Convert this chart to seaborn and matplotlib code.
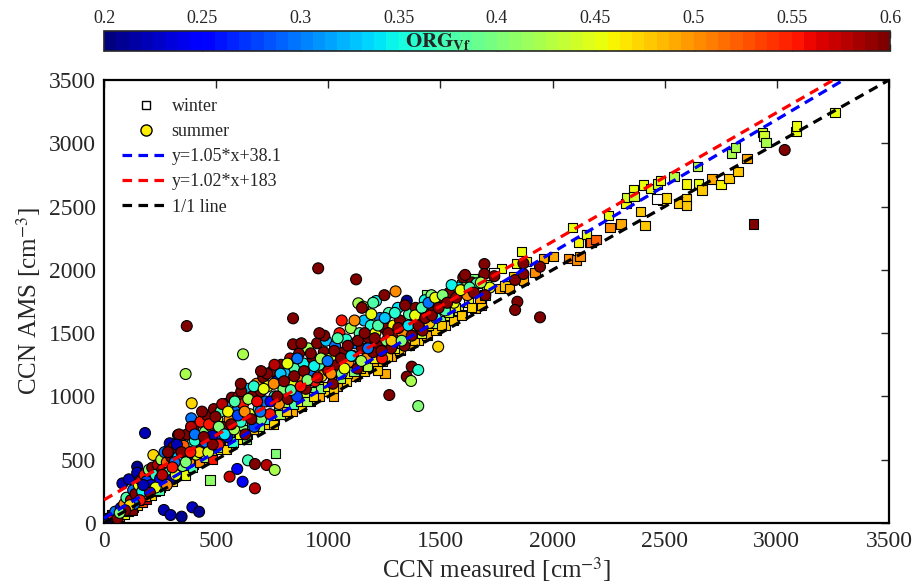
import numpy as np
import matplotlib
matplotlib.use("Agg")
import matplotlib.pyplot as plt
import seaborn as sns
from matplotlib.lines import Line2D
from matplotlib.colors import Normalize
from matplotlib.cm import ScalarMappable

# ---------------- data ----------------
summer_x = [
    10, 25, 40, 50, 60, 75, 82, 90, 100, 111,
    120, 130, 140, 148, 148, 155, 165, 170, 180, 183,
    190, 200, 210, 215, 220, 230, 240, 250, 255, 260,
    267, 270, 280, 290, 293, 297, 297, 300, 320, 330,
    346, 364, 369, 389, 391, 394, 424,
    310, 320, 330, 340, 350, 360, 370, 380, 390, 400,
    410, 416, 420, 430, 440, 450, 460, 470, 480, 490,
    500, 505, 510, 520, 530, 540, 550, 560, 560, 570,
    580, 590, 594, 600, 610, 618, 620, 620, 630, 640,
    642, 650, 660, 670, 673, 673, 680, 690, 700, 700,
    725, 761,
    710, 720, 730, 740, 750, 760, 770, 780, 790, 800,
    810, 820, 830, 840, 843, 843, 850, 860, 870, 880,
    890, 900, 910, 920, 930, 940, 950, 955, 960, 970,
    980, 990, 1000, 1010, 1020, 1030, 1040, 1050, 1060, 1070,
    1080, 1090, 1100,
    1110, 1120, 1124, 1134, 1130, 1140, 1150, 1156, 1160, 1170,
    1180, 1190, 1200, 1210, 1213, 1220, 1230, 1240, 1250, 1260,
    1270, 1272, 1280, 1290, 1300, 1310, 1320, 1330, 1340, 1350,
    1350, 1360, 1369, 1372, 1380, 1390, 1401, 1401, 1410, 1420,
    1430, 1440, 1450, 1460, 1470, 1480, 1490, 1500,
    1520, 1540, 1560, 1580, 1602, 1620, 1640, 1662, 1696, 1696,
    1720, 1833, 1843, 1833, 1870, 1870, 1944, 1944, 3035,
    315, 335, 355, 372, 388, 405, 425, 437, 452, 468,
    483, 497, 512, 527, 538, 553, 567, 583, 597, 612,
    627, 643, 657, 668, 683, 697, 712, 727, 742, 757,
    772, 787, 803, 818, 833, 848, 862, 877, 892, 907,
    922, 937, 952, 967, 982, 997, 1012, 1027, 1042, 1057,
    1072, 1087, 1102, 1117, 1132, 1147, 1162, 1177, 1192, 1207,
    1222, 1237, 1252, 1267, 1282, 1297, 1312, 1327, 1342, 1357,
    1372, 1387, 1402, 1417, 1432, 1447, 1462, 1477, 1492, 1510,
    1530, 1550, 1570, 1590, 1610, 1630, 1650, 1680, 1700, 1740,
    260, 280, 230, 205, 175, 160, 135, 115, 95, 70,
    285, 305, 325, 345, 365, 385, 405, 445, 465, 485,
    610, 700, 760, 880, 960, 1060, 1150, 1250, 1300, 1200,
]
summer_y = [
    20, 40, 55, 90, 35, 120, 313, 150, 200, 345,
    180, 260, 230, 445, 397, 300, 340, 250, 380, 711,
    330, 420, 300, 437, 537, 380, 460, 350, 500, 420,
    103, 560, 480, 400, 630, 63, 340, 520, 445, 695,
    50, 1177, 1556, 827, 946, 124, 89,
    600, 380, 520, 640, 450, 560, 700, 480, 620, 760,
    540, 669, 680, 800, 590, 720, 850, 640, 760, 900,
    700, 820, 620, 880, 760, 940, 680, 366, 820, 990,
    740, 880, 427, 1000, 800, 326, 1333, 940, 700, 1060,
    495, 860, 1000, 760, 274, 466, 1100, 900, 1040, 820,
    458, 419,
    1150, 960, 1080, 860, 1200, 1000, 1120, 940, 1250, 1060,
    1180, 980, 1300, 1100, 1617, 1412, 1220, 1000, 1340, 1150,
    1260, 1060, 1380, 1200, 1300, 1120, 1420, 2012, 1250, 1160,
    1350, 1440, 1200, 1300, 1100, 1400, 1250, 1500, 1180, 1350,
    1450, 1270, 1540,
    1320, 1420, 1925, 1736, 1220, 1500, 1380, 1709, 1600, 1300,
    1460, 1560, 1350, 1500, 1754, 1420, 1620, 1300, 1540, 1440,
    1660, 1011, 1380, 1560, 1470, 1700, 1600, 1500, 1400, 1756,
    1156, 1650, 1122, 1235, 1560, 1700, 1209, 924, 1620, 1520,
    1760, 1660, 1580, 1800, 1700, 1620, 1393, 1760,
    1680, 1820, 1740, 1860, 1941, 1800, 1900, 1894, 2046, 1967,
    1860, 1920, 1748, 1683, 2052, 1967, 2025, 1625, 2947,
    480, 700, 610, 530, 760, 650, 560, 880, 640, 780,
    690, 840, 760, 940, 700, 880, 780, 960, 850, 1040,
    880, 980, 820, 1080, 960, 880, 1060, 1180, 960, 1100,
    1000, 1180, 1120, 1260, 1050, 1160, 1300, 1080, 1200, 1130,
    1340, 1240, 1150, 1300, 1480, 1280, 1180, 1360, 1460, 1300,
    1220, 1400, 1320, 1600, 1440, 1280, 1500, 1380, 1650, 1460,
    1560, 1360, 1620, 1500, 1440, 1660, 1540, 1440, 1720, 1560,
    1480, 1640, 1560, 1700, 1620, 1740, 1640, 1780, 1700, 1800,
    1740, 1880, 1780, 1840, 1960, 1860, 1820, 1900, 1800, 1950,
    380, 300, 280, 240, 300, 180, 150, 140, 100, 80,
    560, 440, 620, 560, 480, 560, 700, 680, 560, 620,
    1100, 1200, 1250, 1420, 1500, 1600, 1700, 1800, 1830, 1740,
]
summer_org = [
    .45, .20, .55, .30, .60, .25, .22, .50, .38, .22,
    .58, .30, .60, .21, .22, .45, .60, .35, .55, .22,
    .28, .40, .24, .60, .47, .36, .58, .25, .42, .60,
    .22, .30, .52, .38, .22, .22, .22, .60, .24, .23,
    .21, .42, .60, .30, .47, .23, .21,
    .60, .45, .33, .58, .40, .26, .60, .50, .35, .60,
    .44, .60, .30, .55, .22, .40, .60, .36, .50, .60,
    .27, .45, .55, .38, .60, .32, .24, .57, .50, .60,
    .42, .30, .25, .58, .36, .25, .42, .55, .60, .33,
    .37, .45, .60, .28, .58, .60, .50, .35, .60, .40,
    .58, .42,
    .60, .30, .45, .55, .60, .36, .25, .50, .60, .40,
    .33, .60, .58, .45, .60, .60, .38, .28, .60, .50,
    .35, .60, .42, .30, .60, .55, .60, .60, .37, .47,
    .60, .33, .58, .44, .60, .30, .60, .55, .40, .60,
    .36, .50, .42,
    .60, .30, .60, .42, .60, .38, .60, .43, .33, .50,
    .60, .36, .60, .45, .35, .60, .30, .55, .60, .40,
    .37, .60, .60, .46, .60, .34, .60, .50, .60, .21,
    .60, .38, .42, .60, .45, .60, .36, .40, .30, .60,
    .35, .60, .48, .40, .60, .36, .47, .60,
    .38, .60, .45, .34, .60, .50, .60, .37, .60, .60,
    .45, .60, .60, .60, .60, .60, .60, .60, .60,
    .30, .60, .52, .24, .58, .36, .47, .60, .30, .55,
    .22, .60, .40, .58, .34, .46, .60, .38, .28, .60,
    .50, .42, .60, .36, .56, .30, .45, .60, .25, .50,
    .60, .33, .60, .45, .38, .60, .30, .55, .60, .40,
    .60, .35, .58, .42, .60, .30, .50, .60, .38, .60,
    .45, .60, .34, .50, .60, .42, .60, .30, .45, .60,
    .38, .60, .33, .60, .48, .36, .60, .40, .60, .34,
    .60, .45, .60, .38, .60, .30, .60, .45, .60, .40,
    .60, .35, .60, .45, .60, .38, .60, .42, .60, .60,
    .58, .50, .45, .60, .22, .55, .30, .47, .60, .40,
    .60, .55, .22, .60, .40, .55, .30, .60, .44, .60,
    .60, .60, .58, .60, .60, .55, .60, .60, .50, .38,
]

winter_x = [
    10, 20, 30, 40, 50, 60, 70, 80, 90, 100,
    110, 120, 130, 140, 150, 160, 170, 180, 190, 200,
    210, 220, 230, 240, 250, 260, 270, 280, 290, 300,
    310, 320, 340, 350, 360, 380, 400, 420, 440, 460,
    473, 480, 500, 520, 540, 560, 580, 600, 620, 640,
    660, 680, 700, 720, 740, 765, 760, 780, 800,
    820, 840, 860, 880, 900, 920, 940, 960, 980, 1000,
    1020, 1040, 1060, 1080, 1100, 1120, 1140, 1160, 1180, 1200,
    1220, 1240, 1260, 1280, 1300, 1320, 1340, 1360, 1380, 1400,
    1420, 1440, 1460, 1480, 1500, 1520, 1540, 1560, 1580, 1600,
    1439, 1595, 1647, 1684, 1253, 1220, 1022,
    1654, 1684, 1676, 1699, 1706, 1662, 1773, 1762, 1788, 1807,
    1825, 1870, 1840, 1862, 1885, 1922, 1959, 2003, 2070, 2108,
    2090, 2115, 2152, 2167, 2122, 2152, 2171, 2194,
    2249, 2256, 2305, 2327, 2330, 2360, 2363, 2393, 2405, 2412,
    2438, 2467, 2480, 2491, 2509, 2541, 2564, 2598, 2598, 2598,
    2645, 2650, 2666, 2711, 2751, 2787, 2799, 2816, 2827, 2867,
    2895, 2937, 2943, 2952, 3085, 3088, 3259,
    35, 65, 95, 125, 155, 185, 215, 245, 275, 305,
    335, 365, 395, 425, 455, 485, 515, 545, 575, 605,
    635, 665, 695, 725, 755, 785, 815, 845, 875, 905,
    935, 965, 995, 1025, 1055, 1085, 1115, 1145, 1175, 1205,
    1235, 1265, 1295, 1325, 1355, 1385, 1415, 1445, 1475, 1505,
    1535, 1565, 1595, 1625, 1640,
]
winter_y = [
    10, 40, 20, 60, 30, 80, 50, 110, 70, 140,
    90, 160, 120, 190, 140, 210, 160, 240, 190, 260,
    220, 290, 250, 320, 280, 350, 300, 380, 330, 400,
    360, 430, 390, 470, 420, 500, 460, 540, 500, 580,
    340, 540, 620, 580, 660, 620, 700, 660, 740, 700,
    780, 740, 820, 780, 860, 550, 820, 900, 860,
    920, 880, 960, 920, 1000, 960, 1040, 1000, 1080, 1040,
    1120, 1080, 1160, 1120, 1200, 1160, 1240, 1200, 1280, 1240,
    1320, 1280, 1360, 1320, 1400, 1360, 1440, 1400, 1480, 1440,
    1520, 1480, 1560, 1520, 1600, 1560, 1640, 1600, 1680, 1650,
    1801, 1880, 1933, 1736, 1183, 1204, 1003,
    1696, 1722, 1775, 1801, 1880, 1894, 2012, 1854, 1872, 1854,
    1946, 1920, 2052, 2144, 2065, 1978, 2091, 2104, 2091, 2078,
    2336, 2215, 2278, 2215, 2104, 2281, 2215, 2241,
    2428, 2333, 2362, 2526, 2573, 2636, 2578, 2460, 2670, 2349,
    2644, 2678, 2705, 2546, 2568, 2736, 2523, 2562, 2510, 2678,
    2815, 2684, 2631, 2718, 2673, 2720, 2921, 2968, 2776, 2878,
    2362, 3084, 3058, 3005, 3092, 3137, 3242,
    70, 100, 130, 100, 180, 210, 250, 260, 340, 330,
    420, 380, 440, 480, 520, 500, 600, 580, 640, 700,
    660, 740, 760, 820, 780, 860, 880, 940, 960, 960,
    1000, 1060, 1080, 1060, 1140, 1180, 1200, 1220, 1240, 1300,
    1340, 1320, 1380, 1420, 1460, 1440, 1500, 1560, 1580, 1560,
    1660, 1700, 1640, 1740, 1700,
]
winter_org = [
    .50, .55, .45, .50, .60, .47, .52, .55, .45, .58,
    .50, .42, .55, .60, .47, .50, .53, .45, .58, .50,
    .47, .55, .42, .60, .48, .52, .45, .50, .55, .43,
    .47, .52, .40, .50, .42, .45, .50, .38, .47, .40,
    .41, .48, .36, .45, .38, .48, .33, .46, .40, .48,
    .35, .45, .38, .48, .40, .40, .46, .35, .48,
    .42, .49, .38, .47, .44, .48, .40, .49, .44, .47,
    .42, .49, .38, .47, .45, .49, .42, .48, .44, .49,
    .40, .47, .44, .49, .42, .48, .45, .49, .40, .47,
    .44, .49, .42, .48, .40, .47, .44, .48, .45, .49,
    .40, .42, .40, .42, .49, .48, .49,
    .49, .48, .49, .48, .42, .38, .45, .49, .48, .49,
    .48, .49, .45, .45, .46, .50, .49, .49, .50, .50,
    .45, .46, .45, .50, .50, .45, .52, .52,
    .45, .50, .49, .45, .44, .45, .44, .48, .45, .48,
    .45, .44, .45, .47, .47, .43, .48, .48, .48, .46,
    .43, .45, .48, .49, .46, .48, .42, .42, .48, .49,
    .60, .44, .44, .42, .45, .45, .45,
    .60, .42, .55, .60, .45, .50, .58, .38, .55, .48,
    .60, .45, .38, .50, .42, .55, .40, .47, .36, .45,
    .40, .48, .42, .36, .47, .42, .48, .38, .45, .42,
    .47, .40, .45, .48, .42, .46, .40, .48, .43, .46,
    .40, .48, .45, .47, .42, .48, .44, .46, .42, .48,
    .44, .46, .48, .45, .47,
]

# winter samples without an ORG_Vf value (white squares)
winter_nan_x = [1739, 2467]
winter_nan_y = [1978, 2557]

fits = {
    "y=1.05*x+38.1": (1.05, 38.1, "blue"),
    "y=1.02*x+183": (1.02, 183.0, "red"),
    "1/1 line": (1.0, 0.0, "black"),
}
cbar_ticks = [0.2, 0.25, 0.3, 0.35, 0.4, 0.45, 0.5, 0.55, 0.6]
cbar_labels = ["0.2", "0.25", "0.3", "0.35", "0.4", "0.45", "0.5", "0.55", "0.6"]

# ---------------- style ----------------
sns.set_style("white")
plt.rcParams["font.family"] = ["Liberation Serif", "DejaVu Serif"]
plt.rcParams["mathtext.fontset"] = "stix"

cmap = plt.get_cmap("jet", 64)
norm = Normalize(0.2, 0.6)

fig = plt.figure(figsize=(9.16, 5.88), dpi=100)
ax = fig.add_axes([104 / 916, 65 / 588, 785 / 916, 443 / 588])
cax = fig.add_axes([104 / 916, 537 / 588, 786 / 916, 20 / 588])

sns.scatterplot(x=winter_x, y=winter_y, hue=winter_org, palette=cmap,
                hue_norm=norm, marker="s", s=44, edgecolor="black",
                linewidth=0.8, legend=False, ax=ax, zorder=2)
sns.scatterplot(x=winter_nan_x, y=winter_nan_y, color="white", marker="s",
                s=44, edgecolor="black", linewidth=0.8, legend=False,
                ax=ax, zorder=2)
sns.scatterplot(x=summer_x, y=summer_y, hue=summer_org, palette=cmap,
                hue_norm=norm, marker="o", s=62, edgecolor="black",
                linewidth=0.8, legend=False, ax=ax, zorder=3)

xs = np.array([0.0, 3500.0])
for label, (m, b, col) in fits.items():
    ax.plot(xs, m * xs + b, linestyle="--", dashes=(3, 2), color=col,
            lw=2.3, zorder=5)

ax.set_xlim(0, 3500)
ax.set_ylim(0, 3500)
ax.set_xticks(np.arange(0, 3501, 500))
ax.set_yticks(np.arange(0, 3501, 500))
ax.tick_params(direction="in", length=6, width=1, top=True, right=True,
               labelsize=17, pad=6)
for sp in ax.spines.values():
    sp.set_linewidth(1.6)
    sp.set_color("black")
ax.set_xlabel("CCN measured [cm$^{-3}$]", fontsize=18, labelpad=2)
ax.set_ylabel("CCN AMS [cm$^{-3}$]", fontsize=18, labelpad=4)

handles = [
    Line2D([], [], marker="s", linestyle="none", markerfacecolor="white",
           markeredgecolor="black", markersize=6, label="winter"),
    Line2D([], [], marker="o", linestyle="none", markerfacecolor="#ffee00",
           markeredgecolor="black", markersize=8, label="summer"),
]
for label, (m, b, col) in fits.items():
    handles.append(Line2D([], [], linestyle="--", dashes=(3, 2), color=col,
                          lw=2.3, label=label))
ax.legend(handles=handles, loc="upper left", frameon=False, fontsize=13,
          handlelength=2.6, handletextpad=0.15, labelspacing=0.45,
          borderaxespad=0.6, bbox_to_anchor=(0.0, 1.0))

cb = fig.colorbar(ScalarMappable(norm=norm, cmap=cmap), cax=cax,
                  orientation="horizontal")
cb.set_ticks(cbar_ticks)
cb.set_ticklabels(cbar_labels)
cax.xaxis.set_ticks_position("both")
cax.tick_params(axis="x", direction="in", length=5, width=1, top=True,
                bottom=True, labeltop=True, labelbottom=False, labelsize=13,
                pad=3)
cb.outline.set_linewidth(1.2)
cax.text(0.425, 0.45, r"$\mathbf{ORG_{Vf}}$", transform=cax.transAxes,
         ha="center", va="center", fontsize=15)

fig.savefig("out.png", dpi=100)
